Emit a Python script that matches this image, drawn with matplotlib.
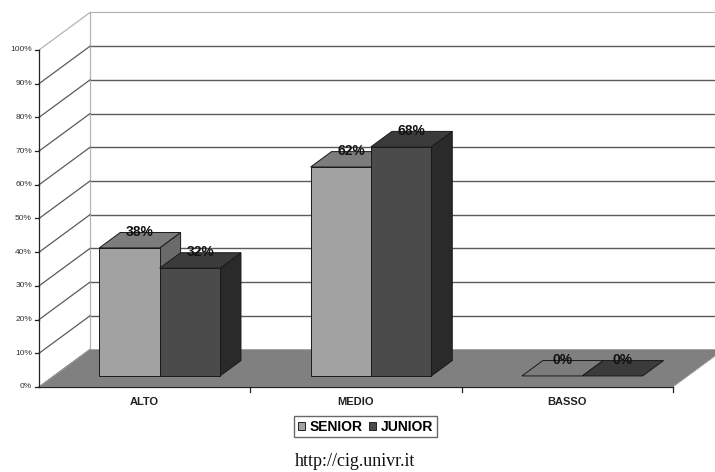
import matplotlib
matplotlib.use("Agg")
import matplotlib.pyplot as plt
from matplotlib.patches import Polygon, Patch

# ---- data -------------------------------------------------------------
categories = ["ALTO", "MEDIO", "BASSO"]
series_names = ["SENIOR", "JUNIOR"]
senior = [38, 62, 0]
junior = [32, 68, 0]
y_ticks = [0, 10, 20, 30, 40, 50, 60, 70, 80, 90, 100]
y_tick_labels = [f"{v}%" for v in y_ticks]
source_text = "http://cig.univr.it"

# ---- styling ----------------------------------------------------------
face_colors = {
    "SENIOR": {"front": "#a2a2a2", "top": "#7c7c7c", "side": "#6a6a6a"},
    "JUNIOR": {"front": "#4b4b4b", "top": "#3b3b3b", "side": "#2a2a2a"},
}
floor_color = "#808080"
grid_color = "#5a5a5a"
wall_edge = "#b4b4b4"

# pseudo-3D geometry (x in category units, y in percent)
PX_PER_CAT = 211.3
PX_PER_PCT = 3.37
X0_PX, Y0_PX = 39, 387
DEPTH_X = 51 / PX_PER_CAT
DEPTH_Y = 37.5 / PX_PER_PCT
GAP = 1.5                      # gap width, in bar widths
BAR_D0, BAR_D1 = 0.295, 0.705  # bar depth range (0 = front, 1 = back)
N = len(categories)


def P(x, y, d=0.0):
    """Project a point at depth d onto the drawing plane."""
    return (x + d * DEPTH_X, y + d * DEPTH_Y)


W, H = 715, 472
fig = plt.figure(figsize=(W / 100, H / 100), dpi=100)
ax = fig.add_axes([0, 0, 1, 1])
ax.set_xlim(-X0_PX / PX_PER_CAT, (W - X0_PX) / PX_PER_CAT)
ax.set_ylim((Y0_PX - H) / PX_PER_PCT, Y0_PX / PX_PER_PCT)
ax.axis("off")

plt.rcParams["font.family"] = ["Liberation Sans", "DejaVu Sans"]

# back wall gridlines
top = y_ticks[-1]
for v in y_ticks[1:-1]:
    xs, ys = zip(P(0, v, 1), P(N, v, 1))
    ax.plot(xs, ys, color=grid_color, lw=1.0, zorder=1)
# wall borders
xs, ys = zip(P(0, top, 1), P(N, top, 1))
ax.plot(xs, ys, color=wall_edge, lw=0.9, zorder=1)
xs, ys = zip(P(0, 0, 1), P(0, top, 1))
ax.plot(xs, ys, color=wall_edge, lw=0.9, zorder=1)

# side wall gridlines
for v in y_ticks:
    xs, ys = zip(P(0, v, 0), P(0, v, 1))
    ax.plot(xs, ys, color=wall_edge if v == top else grid_color,
            lw=0.9, zorder=1)

# floor
floor = Polygon([P(0, 0, 0), P(N, 0, 0), P(N, 0, 1), P(0, 0, 1)],
                closed=True, facecolor=floor_color, edgecolor="#a0a0a0",
                lw=0.6, zorder=2)
ax.add_patch(floor)

# bars (each value label sits just above its own bar, so a later bar
# may hide part of it)
bar_w = 1.0 / (len(series_names) + GAP)
values = {"SENIOR": senior, "JUNIOR": junior}
z = 3
for i in range(N):
    for j, name in enumerate(series_names):
        v = values[name][i]
        xl = i + GAP / 2 * bar_w + j * bar_w
        xr = xl + bar_w
        c = face_colors[name]
        faces = []
        if v > 0:
            faces.append(([P(xr, 0, BAR_D0), P(xr, 0, BAR_D1),
                           P(xr, v, BAR_D1), P(xr, v, BAR_D0)], c["side"]))
            faces.append(([P(xl, 0, BAR_D0), P(xr, 0, BAR_D0),
                           P(xr, v, BAR_D0), P(xl, v, BAR_D0)], c["front"]))
        faces.append(([P(xl, v, BAR_D0), P(xr, v, BAR_D0),
                       P(xr, v, BAR_D1), P(xl, v, BAR_D1)], c["top"]))
        for pts, col in faces:
            ax.add_patch(Polygon(pts, closed=True, facecolor=col,
                                 edgecolor="#1a1a1a", lw=0.7, zorder=z))
        lx, ly = P((xl + xr) / 2, v, (BAR_D0 + BAR_D1) / 2)
        ax.text(lx, ly + 2.5, f"{v}%", ha="center", va="center",
                fontsize=10, fontweight="bold", color="#111111",
                zorder=z + 0.5)
        z += 1

# front axes
ax.plot([0, 0], [0, top], color="#222222", lw=0.9, zorder=20)
ax.plot([0, N], [0, 0], color="#222222", lw=0.9, zorder=20)
tick_dx = 4 / PX_PER_CAT
for v, lab in zip(y_ticks, y_tick_labels):
    ax.plot([-tick_dx, 0], [v, v], color="#222222", lw=0.9, zorder=20)
    ax.text(-7 / PX_PER_CAT, v, lab, ha="right", va="center",
            fontsize=6, color="#333333")
tick_dy = 5 / PX_PER_PCT
for k in range(1, N + 1):
    ax.plot([k, k], [0, -tick_dy], color="#222222", lw=0.9, zorder=20)
for i, cat in enumerate(categories):
    ax.text(i + 0.5, -15 / PX_PER_PCT, cat, ha="center", va="center",
            fontsize=8, fontweight="bold", color="#222222")

# legend
handles = [Patch(facecolor=face_colors[n]["front"], edgecolor="#222222",
                 lw=0.7, label=n) for n in series_names]
leg = fig.legend(handles=handles, loc="center",
                 bbox_to_anchor=(365.5 / W, 1 - 426.7 / H), ncol=2,
                 frameon=True, fancybox=False, handlelength=0.55,
                 handleheight=0.55, handletextpad=0.35, columnspacing=0.4,
                 borderpad=0.25, borderaxespad=0,
                 prop={"family": "Liberation Sans", "weight": "bold",
                       "size": 10})
leg.get_frame().set_edgecolor("#444444")
leg.get_frame().set_linewidth(1.0)

# source caption
fig.text(354.7 / W, 1 - 461.7 / H, source_text, ha="center", va="center",
         fontsize=13, family="Liberation Serif", color="#111111")

fig.savefig("out.png", dpi=100)
